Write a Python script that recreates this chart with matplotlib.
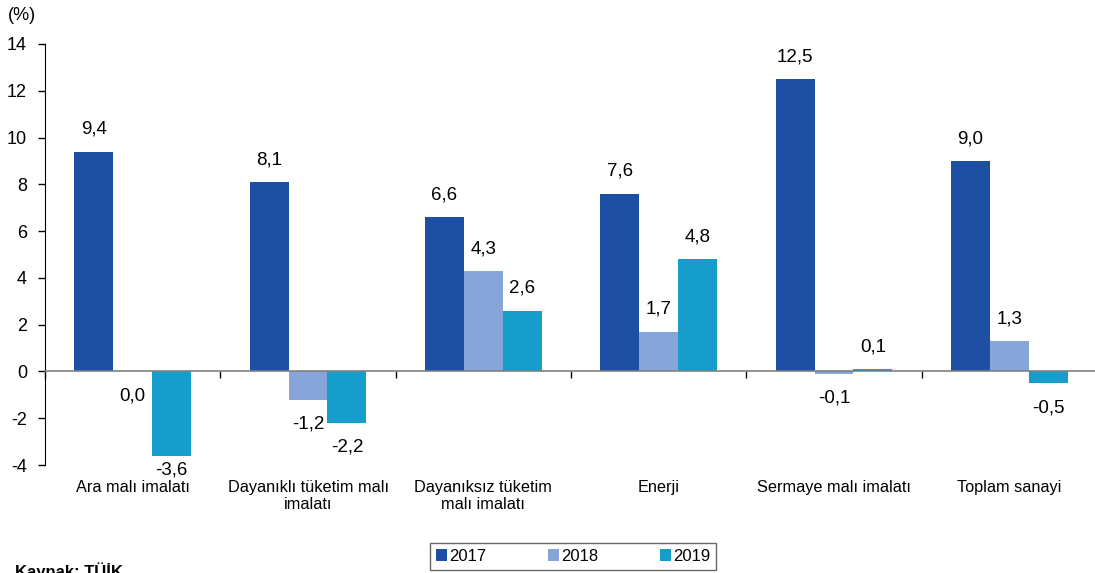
import matplotlib
matplotlib.use("Agg")
import matplotlib.pyplot as plt
import matplotlib.transforms as mtransforms
from matplotlib.patches import Patch
import numpy as np

plt.rcParams['font.family'] = ['Liberation Sans', 'DejaVu Sans']

categories = ["Ara malı imalatı", "Dayanıklı tüketim malı\nimalatı", "Dayanıksız tüketim\nmalı imalatı",
              "Enerji", "Sermaye malı imalatı", "Toplam sanayi"]
years = ["2017", "2018", "2019"]
v2017 = [9.4, 8.1, 6.6, 7.6, 12.5, 9.0]
v2018 = [0.0, -1.2, 4.3, 1.7, -0.1, 1.3]
v2019 = [-3.6, -2.2, 2.6, 4.8, 0.1, -0.5]
colors = ["#1F4FA2", "#87A5D8", "#169DCC"]
yticks = [-4, -2, 0, 2, 4, 6, 8, 10, 12, 14]

fig = plt.figure(figsize=(10.95, 5.73), dpi=100)
ax = fig.add_axes([45/1095, 1-465/573, 1052/1095, 421/573])

x = np.arange(len(categories))
w = 0.222
series = [v2017, v2018, v2019]
for i, (vals, c) in enumerate(zip(series, colors)):
    xs = x + (i - 1) * w
    ax.bar(xs, vals, width=w, color=c, zorder=2)
    for xx, v in zip(xs, vals):
        lab = f"{v:.1f}".replace(".", ",")
        if v > 0:
            y = v + 0.95
        else:
            y = max(v - 1.05, -4.23)
        ax.text(xx, y, lab, ha='center', va='center', fontsize=13.5, clip_on=False, zorder=3)

ax.set_xlim(-0.5, len(categories) - 0.5)
ax.set_ylim(-4, 14)
ax.set_yticks(yticks)
ax.set_yticklabels([str(t) for t in yticks], fontsize=13)
ax.tick_params(axis='y', direction='out', length=5, width=1, pad=8)

for s in ['top', 'right']:
    ax.spines[s].set_visible(False)
ax.spines['left'].set_color('black')
ax.spines['bottom'].set_position(('data', 0))
ax.spines['bottom'].set_color('#808080')
ax.spines['bottom'].set_linewidth(1.2)
ax.spines['bottom'].set_zorder(4)
ax.set_xticks([])
ax.set_xticks(np.arange(len(categories) + 1) - 0.5, minor=True)
ax.tick_params(axis='x', which='minor', direction='out', length=5, width=1, color='black', labelbottom=False)

trans = mtransforms.blended_transform_factory(ax.transData, ax.transAxes)
for xx, lab in zip(x, categories):
    ax.text(xx, -0.036, lab, transform=trans, ha='center', va='top', fontsize=11.7, linespacing=1.15)

fig.text(8/1095, 1-15/573, "(%)", fontsize=13, ha='left', va='center')
fig.text(15/1095, 1-562/573, "Kaynak: TÜİK", fontsize=12, fontweight='bold', ha='left', va='top')

handles = [Patch(facecolor=c, edgecolor='none') for c in colors]
leg = fig.legend(handles, years, loc='center', ncol=3,
                 bbox_to_anchor=((430+716)/2/1095, 1-556.5/573),
                 fontsize=12, handlelength=0.7, handleheight=0.7, handletextpad=0.1,
                 columnspacing=3.7, frameon=True, fancybox=False, borderpad=0.35,
                 borderaxespad=0)
leg.get_frame().set_edgecolor('#404040')
leg.get_frame().set_linewidth(1.0)

fig.savefig("out.png", dpi=100)
